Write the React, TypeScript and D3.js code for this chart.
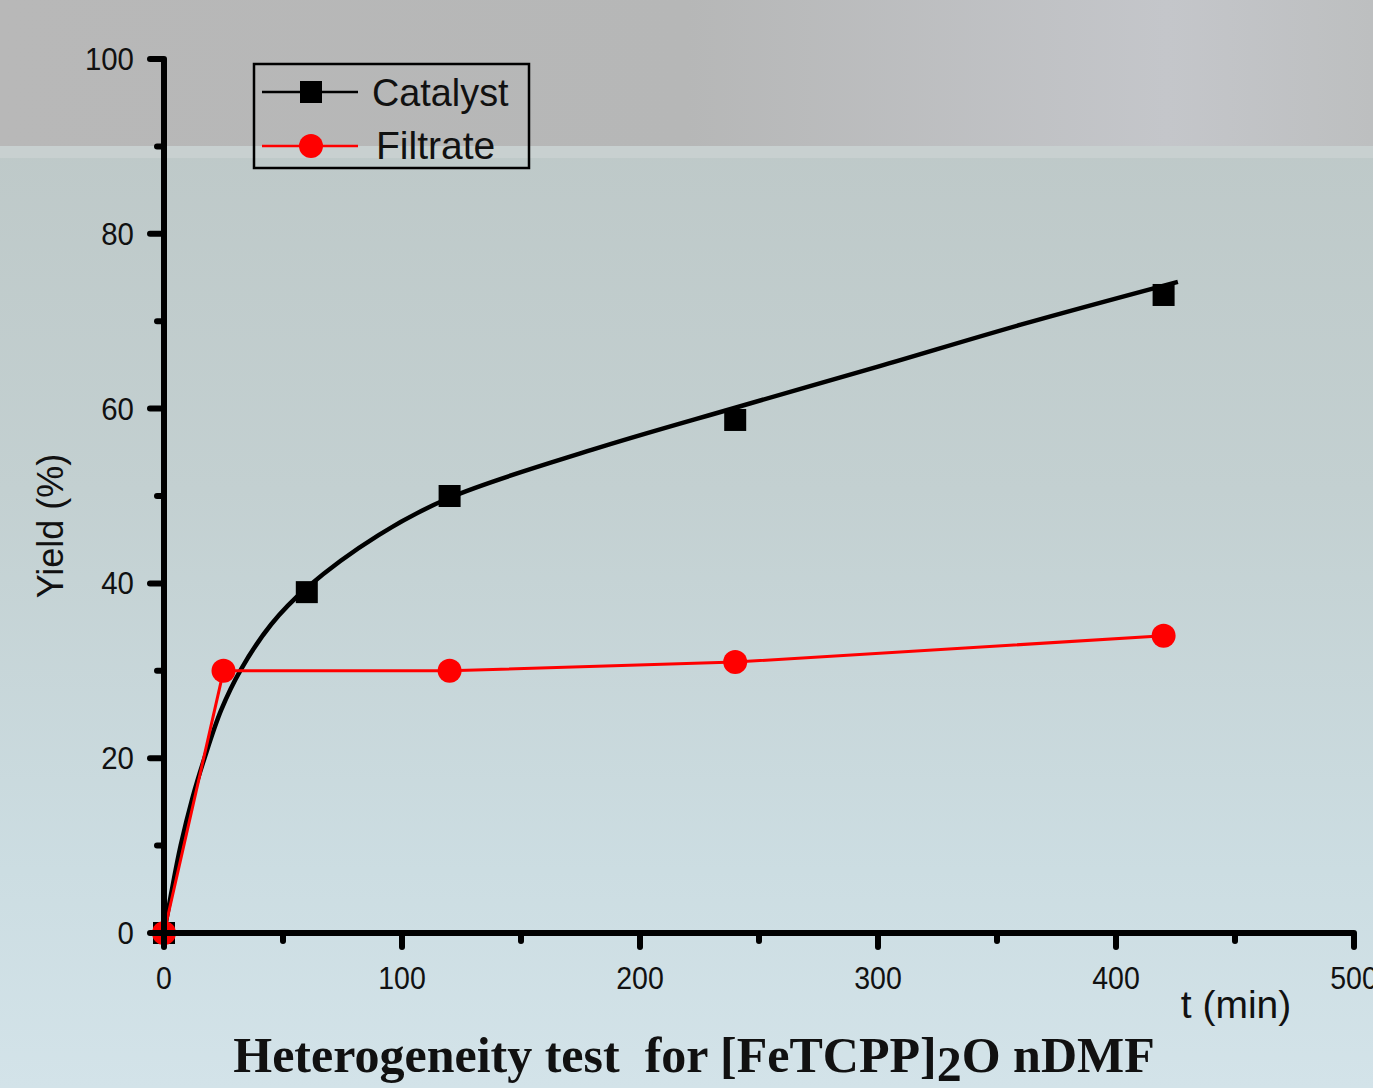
import React from "react";
import * as d3 from "d3";

const catalystT = [0, 60, 120, 240, 420];
const catalystY = [0, 39, 50, 58.7, 73];
const fitT = [0, 3, 7, 12, 17, 24, 32, 45, 60, 90, 120, 180, 240, 300, 360, 426];
const fitY = [0, 4.5, 10, 15.5, 20, 25.5, 30, 35.3, 39.5, 45.5, 49.8, 55.3, 60.1, 64.8, 69.6, 74.5];
const filtrateT = [0, 25, 120, 240, 420];
const filtrateY = [0, 30, 30, 31, 34];
const xTicks = [0, 100, 200, 300, 400, 500];
const xMinor = [50, 150, 250, 350, 450];
const yTicks = [0, 20, 40, 60, 80, 100];
const yMinor = [10, 30, 50, 70, 90];
const seriesNames = ["Catalyst", "Filtrate"];

export default function App() {
  const W = 1373, H = 1088;
  const x = d3.scaleLinear().domain([0, 500]).range([164, 1354]);
  const y = d3.scaleLinear().domain([0, 100]).range([933, 59]);
  const fitLine = d3
    .line<number>()
    .x((_, i) => x(fitT[i]))
    .y((d) => y(d))
    .curve(d3.curveCatmullRom.alpha(0.5));
  const filLine = d3
    .line<number>()
    .x((_, i) => x(filtrateT[i]))
    .y((d) => y(d));
  const sans = "'Liberation Sans', Arial, sans-serif";
  return (
    <svg
      width={W}
      height={H}
      style={{ position: "absolute", left: 0, top: 0 }}
      xmlns="http://www.w3.org/2000/svg"
    >
      <defs>
        <linearGradient id="bgLow" x1="0" y1="0" x2="0" y2="1">
          <stop offset="0" stopColor="#bcc6c5" />
          <stop offset="0.45" stopColor="#c3d0d1" />
          <stop offset="0.8" stopColor="#ccdde2" />
          <stop offset="1" stopColor="#d3e3e9" />
        </linearGradient>
        <linearGradient id="bgTop" x1="0" y1="0" x2="1" y2="0">
          <stop offset="0" stopColor="#b8b8b8" />
          <stop offset="0.5" stopColor="#b6b7b7" />
          <stop offset="0.85" stopColor="#c4c6ca" />
          <stop offset="1" stopColor="#bdbfc0" />
        </linearGradient>
      </defs>
      <rect x={0} y={0} width={W} height={H} fill="url(#bgLow)" />
      <rect x={0} y={0} width={W} height={146} fill="url(#bgTop)" />
      <rect x={0} y={146} width={W} height={12} fill="#c8d0d0" />

      {/* fit curve */}
      <path d={fitLine(fitY) || ""} fill="none" stroke="#000" strokeWidth={4.5} />
      {/* filtrate line */}
      <path d={filLine(filtrateY) || ""} fill="none" stroke="#ff0000" strokeWidth={3} />

      {catalystT.map((t, i) => (
        <rect
          key={"c" + i}
          x={x(t) - 11}
          y={y(catalystY[i]) - 11}
          width={22}
          height={22}
          fill="#000"
        />
      ))}
      {filtrateT.map((t, i) => (
        <circle key={"f" + i} cx={x(t)} cy={y(filtrateY[i])} r={12} fill="#ff0000" />
      ))}

      {/* axes */}
      <line x1={x(0)} y1={y(100)} x2={x(0)} y2={y(0) + 2} stroke="#000" strokeWidth={6} />
      <line x1={x(0) - 3} y1={y(0)} x2={x(500)} y2={y(0)} stroke="#000" strokeWidth={6} />
      {yTicks.map((v) => (
        <line key={"yt" + v} x1={x(0)} x2={x(0) - 14} y1={y(v)} y2={y(v)} stroke="#000" strokeWidth={6} strokeLinecap="round" />
      ))}
      {yMinor.map((v) => (
        <line key={"ym" + v} x1={x(0)} x2={x(0) - 7} y1={y(v)} y2={y(v)} stroke="#000" strokeWidth={6} strokeLinecap="round" />
      ))}
      {xTicks.map((v) => (
        <line key={"xt" + v} x1={x(v)} x2={x(v)} y1={y(0)} y2={y(0) + 14} stroke="#000" strokeWidth={6} strokeLinecap="round" />
      ))}
      {xMinor.map((v) => (
        <line key={"xm" + v} x1={x(v)} x2={x(v)} y1={y(0)} y2={y(0) + 8} stroke="#000" strokeWidth={6} strokeLinecap="round" />
      ))}
      {yTicks.map((v) => (
        <text
          key={"yl" + v}
          x={134}
          y={y(v) + 11}
          textAnchor="end"
          fontFamily={sans}
          fontSize={31}
          fill="#111"
          transform={`translate(134,0) scale(0.95,1) translate(-134,0)`}
        >
          {v}
        </text>
      ))}
      {xTicks.map((v) => (
        <text
          key={"xl" + v}
          x={x(v)}
          y={989}
          textAnchor="middle"
          fontFamily={sans}
          fontSize={31}
          fill="#111"
          transform={`translate(${x(v)},0) scale(0.92,1) translate(${-x(v)},0)`}
        >
          {v}
        </text>
      ))}
      <text x={1236} y={1018} textAnchor="middle" fontFamily={sans} fontSize={39} fill="#111">
        t (min)
      </text>
      <text
        x={0}
        y={0}
        transform="translate(63,526) rotate(-90)"
        textAnchor="middle"
        fontFamily={sans}
        fontSize={36}
        fill="#111"
      >
        Yield (%)
      </text>

      {/* legend */}
      <rect x={254} y={64} width={275} height={104} fill="none" stroke="#000" strokeWidth={2.5} />
      <line x1={262} x2={358} y1={92} y2={92} stroke="#000" strokeWidth={2.5} />
      <rect x={300} y={81} width={22} height={22} fill="#000" />
      <line x1={262} x2={358} y1={146} y2={146} stroke="#ff0000" strokeWidth={2.5} />
      <circle cx={311} cy={146} r={12} fill="#ff0000" />
      <text x={372} y={106} fontFamily={sans} fontSize={39} fill="#111"
        transform="translate(372,0) scale(0.97,1) translate(-372,0)">
        {seriesNames[0]}
      </text>
      <text x={376} y={159} fontFamily={sans} fontSize={39} fill="#111">
        {seriesNames[1]}
      </text>

      {/* caption */}
      <text
        x={694}
        y={1072}
        textAnchor="middle"
        fontFamily="'Liberation Serif', 'DejaVu Serif', serif"
        fontSize={50}
        fontWeight="bold"
        fill="#111"
        style={{ whiteSpace: "pre" }}
      >
        {"Heterogeneity test  for [FeTCPP]"}
        <tspan dy={9}>2</tspan>
        <tspan dy={-9}>{"O nDMF"}</tspan>
      </text>
    </svg>
  );
}
